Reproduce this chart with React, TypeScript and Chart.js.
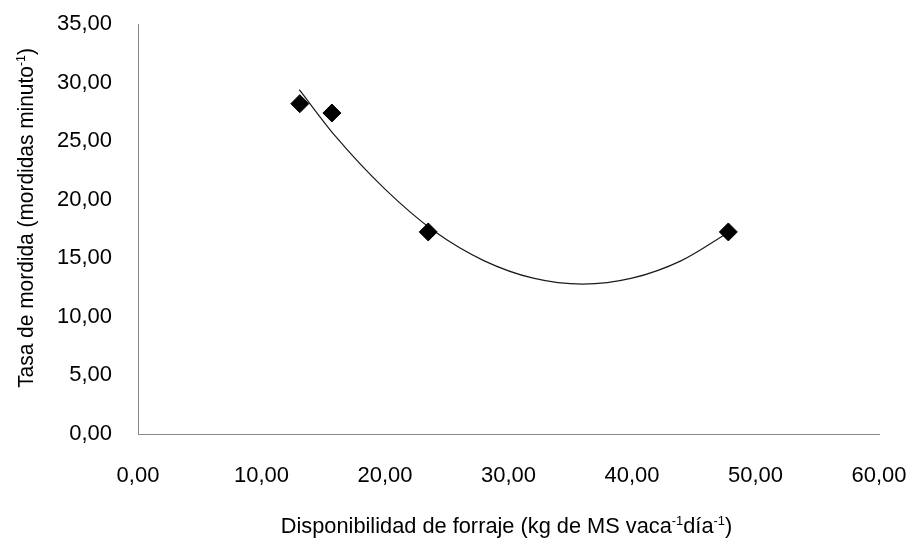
import React, { useEffect, useRef } from "react";
import { Chart, registerables } from "chart.js";

Chart.register(...registerables);

// Observed data (kg DM cow-1 day-1 vs bites per minute)
const forage = [13.1, 15.7, 23.5, 47.8];
const biteRate = [28.2, 27.4, 17.25, 17.25];

// Trend line
const trendX = [13.06, 16, 20, 24, 28, 32, 36, 40, 44, 47.8];
const trendY = [29.4, 25.4, 20.9, 17.3, 14.8, 13.3, 12.8, 13.3, 14.8, 17.2];

const xMin = 0;
const xMax = 60;
const xStep = 10;
const yMin = 0;
const yMax = 35;
const yStep = 5;

const xTitleParts = [
  { t: "Disponibilidad de forraje (kg de MS vaca", sup: false },
  { t: "-1", sup: true },
  { t: "día", sup: false },
  { t: "-1", sup: true },
  { t: ")", sup: false },
];
const yTitleParts = [
  { t: "Tasa de mordida (mordidas minuto", sup: false },
  { t: "-1", sup: true },
  { t: ")", sup: false },
];

const FONT = '"Liberation Sans", Arial, sans-serif';
const fmt = (v: number) => v.toFixed(2).replace(".", ",");

function drawRich(ctx: CanvasRenderingContext2D, parts: { t: string; sup: boolean }[]) {
  const base = `22px ${FONT}`;
  const small = `13px ${FONT}`;
  let total = 0;
  const widths = parts.map((p) => {
    ctx.font = p.sup ? small : base;
    const w = ctx.measureText(p.t).width;
    total += w;
    return w;
  });
  let x = -total / 2;
  parts.forEach((p, i) => {
    ctx.font = p.sup ? small : base;
    ctx.fillText(p.t, x, p.sup ? -8 : 0);
    x += widths[i];
  });
}

const titlesPlugin = {
  id: "richTitles",
  afterDraw(chart: any) {
    const { ctx, chartArea } = chart;
    ctx.save();
    ctx.fillStyle = "#000";
    ctx.textBaseline = "alphabetic";
    ctx.textAlign = "left";
    ctx.save();
    ctx.translate((chartArea.left + chartArea.right) / 2 - 2, 533);
    ctx.scale(0.99, 1);
    drawRich(ctx, xTitleParts);
    ctx.restore();
    ctx.save();
    ctx.translate(33, (chartArea.top + chartArea.bottom) / 2 - 11);
    ctx.rotate(-Math.PI / 2);
    ctx.scale(0.95, 1);
    drawRich(ctx, yTitleParts);
    ctx.restore();
    ctx.restore();
  },
};

export default function App() {
  const ref = useRef<HTMLCanvasElement>(null);
  useEffect(() => {
    if (!ref.current) return;
    const chart = new Chart(ref.current, {
      type: "scatter",
      data: {
        datasets: [
          {
            label: "Observado",
            data: forage.map((x, i) => ({ x, y: biteRate[i] })),
            showLine: false,
            pointStyle: "rectRot",
            pointRadius: 9,
            backgroundColor: "#000",
            borderColor: "#000",
            borderWidth: 1,
            order: 1,
          },
          {
            label: "Tendencia",
            data: trendX.map((x, i) => ({ x, y: trendY[i] })),
            showLine: true,
            pointRadius: 0,
            borderColor: "#1a1a1a",
            borderWidth: 1.2,
            cubicInterpolationMode: "monotone",
            fill: false,
            order: 2,
          },
        ],
      },
      options: {
        responsive: false,
        animation: false,
        layout: { padding: { left: 0, top: 24, right: 29, bottom: 0 } },
        plugins: { legend: { display: false }, tooltip: { enabled: false } },
        scales: {
          x: {
            type: "linear",
            min: xMin,
            max: xMax,
            afterFit: (s: any) => {
              s.height = 104;
              s.paddingLeft = 0;
              s.paddingRight = 0;
            },
            ticks: {
              stepSize: xStep,
              padding: 29,
              color: "#000",
              font: { family: FONT, size: 22 },
              callback: (v: any) => fmt(Number(v)),
              maxRotation: 0,
            },
            grid: { display: false, drawTicks: false },
            border: { display: true, color: "#888", width: 1 },
          },
          y: {
            type: "linear",
            min: yMin,
            max: yMax,
            afterFit: (s: any) => {
              s.width = 138;
              s.paddingTop = 0;
              s.paddingBottom = 0;
            },
            ticks: {
              stepSize: yStep,
              padding: 26,
              color: "#000",
              font: { family: FONT, size: 22 },
              callback: (v: any) => fmt(Number(v)),
            },
            grid: { display: false, drawTicks: false },
            border: { display: true, color: "#888", width: 1 },
          },
        },
      },
      plugins: [titlesPlugin],
    } as any);
    return () => chart.destroy();
  }, []);
  return (
    <div style={{ position: "absolute", left: 0, top: 0, width: 908, height: 538, background: "#fff" }}>
      <canvas ref={ref} width={908} height={538} />
    </div>
  );
}
